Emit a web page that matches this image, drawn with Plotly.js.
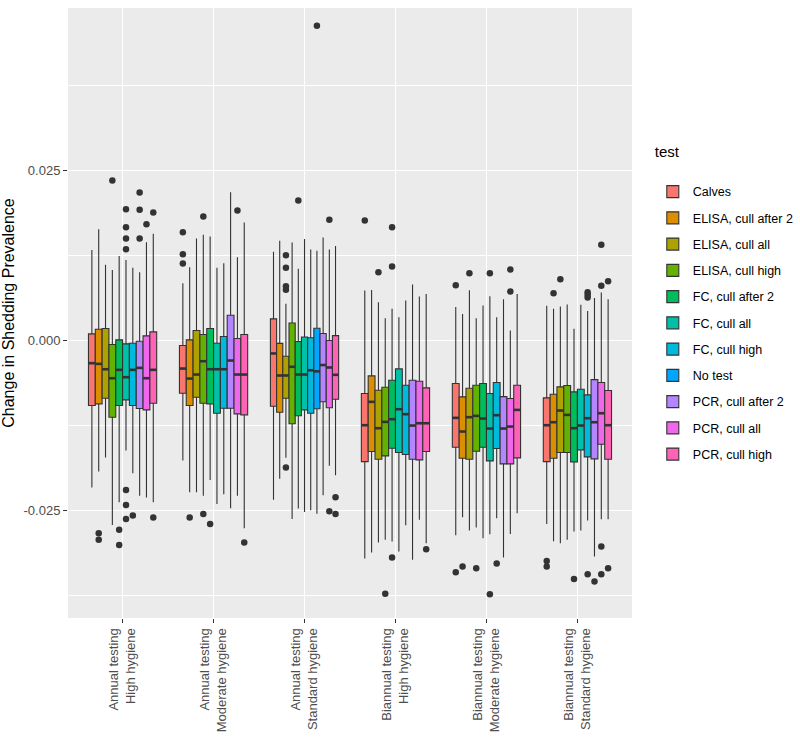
<!DOCTYPE html>
<html>
<head>
<meta charset="utf-8">
<script src="https://cdn.plot.ly/plotly-3.0.1.min.js"></script>
<style>
  body { margin: 0; background: #ffffff; }
  #chart { width: 800px; height: 741px; }
</style>
</head>
<body>
<div id="chart"></div>
<script>
/* Change in shedding prevalence by testing scheme, hygiene level and test */

let groups = ["Annual testing<br>High hygiene", "Annual testing<br>Moderate hygiene",
              "Annual testing<br>Standard hygiene", "Biannual testing<br>High hygiene",
              "Biannual testing<br>Moderate hygiene", "Biannual testing<br>Standard hygiene"];

let tests = ["Calves", "ELISA, cull after 2", "ELISA, cull all", "ELISA, cull high",
             "FC, cull after 2", "FC, cull all", "FC, cull high", "No test",
             "PCR, cull after 2", "PCR, cull all", "PCR, cull high"];

let testColors = ["#F8766D", "#DB8E00", "#AEA200", "#64B200", "#00BD5C", "#00C1A7",
                  "#00BADE", "#00A6FF", "#B385FF", "#EF67EB", "#FF63B6"];

// one row per test, one column per group (null = test not run in that group)
let upperWhisker = [
  [0.01333, 0.00843, 0.01307, 0.00735, 0.00495, 0.0051],
  [0.01637, 0.01078, 0.01466, 0.00745, 0.00392, 0.00466],
  [0.01113, 0.015, 0.0054, 0.00564, 0.0074, 0.005],
  [0.01039, 0.01554, 0.0144, 0.00328, 0.00328, 0.00529],
  [0.01245, 0.01529, 0.01055, 0.00466, 0.00515, 0.00172],
  [0.01186, 0.01069, 0.01492, 0.00343, 0.00652, 0.00525],
  [0.01069, 0.01137, 0.01337, 0.00588, 0.00343, 0.00436],
  [null, null, 0.01322, null, null, null],
  [0.01005, 0.02181, 0.01517, 0.00824, 0.00608, 0.00627],
  [0.01446, 0.01225, 0.01337, 0.00647, 0.00147, 0.00706],
  [0.01569, 0.01735, 0.01389, 0.00686, 0.00686, 0.00608]
];
let q3 = [
  [0.00098, -0.00074, 0.00319, -0.00779, -0.00632, -0.00843],
  [0.00167, 0.0001, -0.00041, -0.0052, -0.00828, -0.00789],
  [0.00176, 0.00147, -0.00231, -0.0073, -0.00701, -0.00681],
  [-0.00059, 0.00088, 0.00257, -0.00686, -0.00657, -0.00662],
  [0.0001, 0.00176, -0.00015, -0.00583, -0.00632, -0.00755],
  [-0.00049, -0.00039, 0.00051, -0.00417, -0.00779, -0.00716],
  [-0.00039, 0.00059, 0.00041, -0.00657, -0.00618, -0.00799],
  [null, null, 0.0018, null, null, null],
  [-0.0001, 0.00373, 0.00103, -0.00583, -0.00824, -0.00574],
  [0.00069, 0.00029, 0.0, -0.00598, -0.00853, -0.00618],
  [0.00127, 0.00088, 0.00072, -0.00696, -0.00657, -0.00735]
];
let median = [
  [-0.00333, -0.00412, -0.0019, -0.01245, -0.01137, -0.01245],
  [-0.00343, -0.00559, -0.00514, -0.00902, -0.01338, -0.01201],
  [-0.00422, -0.005, -0.00514, -0.01289, -0.01127, -0.01029],
  [-0.00554, -0.00304, -0.00386, -0.01196, -0.01108, -0.01093],
  [-0.00431, -0.00422, -0.00499, -0.01157, -0.01147, -0.01289],
  [-0.00539, -0.00422, -0.00499, -0.0101, -0.01294, -0.0125],
  [-0.00431, -0.00422, -0.00437, -0.01083, -0.01098, -0.01142],
  [null, null, -0.00453, null, null, null],
  [-0.00402, -0.00294, -0.0036, -0.0125, -0.01294, -0.01201],
  [-0.00554, -0.005, -0.00396, -0.01216, -0.01265, -0.01069],
  [-0.00431, -0.005, -0.00504, -0.01216, -0.0102, -0.01245]
];
let q1 = [
  [-0.00956, -0.00775, -0.00967, -0.0178, -0.01569, -0.0178],
  [-0.00931, -0.00956, -0.01055, -0.01632, -0.0173, -0.0173],
  [-0.00848, -0.00833, -0.00849, -0.01745, -0.01745, -0.01647],
  [-0.01127, -0.00922, -0.01224, -0.01696, -0.01627, -0.01647],
  [-0.00956, -0.00931, -0.01106, -0.01583, -0.01569, -0.01784],
  [-0.00873, -0.01069, -0.01019, -0.01647, -0.0177, -0.01608],
  [-0.00956, -0.00995, -0.0107, -0.01676, -0.01588, -0.01711],
  [null, null, -0.01003, null, null, null],
  [-0.01, -0.00995, -0.009, -0.01745, -0.01814, -0.0174],
  [-0.0102, -0.01078, -0.00988, -0.01755, -0.01814, -0.01525],
  [-0.00922, -0.01093, -0.00864, -0.01632, -0.01725, -0.01745]
];
let lowerWhisker = [
  [-0.0216, -0.01765, -0.0234, -0.03206, -0.02863, -0.02696],
  [-0.01927, -0.0223, -0.02032, -0.03118, -0.02598, -0.02951],
  [-0.01721, -0.0223, -0.01723, -0.02971, -0.02794, -0.0298],
  [-0.02711, -0.02284, -0.02623, -0.02931, -0.0275, -0.02931],
  [-0.02378, -0.02049, -0.02469, -0.02956, -0.02907, -0.02809],
  [-0.01618, -0.02402, -0.02521, -0.03103, -0.02848, -0.02794],
  [-0.01951, -0.0226, -0.02495, -0.02716, -0.02613, -0.02647],
  [null, null, -0.02546, null, null, null],
  [-0.02284, -0.02466, -0.02274, -0.03225, -0.03191, -0.03176],
  [-0.02309, -0.02284, -0.01842, -0.02637, -0.02843, -0.02627],
  [-0.02378, -0.0276, -0.0198, -0.0298, -0.02539, -0.02627]
];

// outliers: test index, group index, value
let outTest = [1, 1, 3, 4, 4, 5, 5, 5, 5, 5, 5, 5, 6, 8, 8, 8, 9, 10, 10,
               0, 0, 0, 1, 3, 3, 4, 9, 10,
               2, 2, 2, 2, 2, 4, 7, 9, 9, 10, 10,
               0, 2, 3, 4, 4, 4, 10,
               0, 0, 1, 2, 3, 5, 5, 6, 9, 9,
               0, 0, 1, 2, 4, 6, 6, 6, 6, 8, 9, 9, 9, 9, 10, 10];
let outGroup = [0, 0, 0, 0, 0, 0, 0, 0, 0, 0, 0, 0, 0, 0, 0, 0, 0, 0, 0,
                1, 1, 1, 1, 1, 1, 1, 1, 1,
                2, 2, 2, 2, 2, 2, 2, 2, 2, 2, 2,
                3, 3, 3, 3, 3, 3, 3,
                4, 4, 4, 4, 4, 4, 4, 4, 4, 4,
                5, 5, 5, 5, 5, 5, 5, 5, 5, 5, 5, 5, 5, 5, 5, 5];
let outValue = [-0.02833, -0.02931, 0.02353, -0.02784, -0.03005, 0.01931, 0.01667, 0.015,
                0.01343, -0.02196, -0.02417, -0.02623, -0.02574, 0.02176, 0.01922, 0.015,
                0.01711, 0.01882, -0.02603,
                0.01593, 0.0127, 0.01132, -0.02603, 0.01824, -0.02549, -0.02696, 0.01912,
                -0.02971,
                0.01255, 0.0107, 0.00797, 0.00746, -0.01867, 0.02058, 0.0463, 0.01775,
                -0.0251, -0.02304, -0.02551,
                0.01765, 0.01005, -0.03725, 0.01667, 0.01088, -0.03191, -0.03069,
                0.00814, -0.03407, -0.03324, 0.0099, -0.03348, 0.0099, -0.0373, -0.0328,
                0.01044, 0.00721,
                -0.0324, -0.03324, 0.00696, 0.00902, -0.03505, 0.00711, 0.00672, 0.00632,
                -0.03436, -0.03544, 0.01407, 0.00804, -0.03029, -0.03436, 0.00873, -0.03348];

let boxLine = "#333333";

// dodge the boxes present in each group over 0.75 of the slot, like ggplot does
function dodgePositions() {
  let pos = tests.map(() => groups.map(() => null));
  let width = groups.map(() => 0);
  groups.forEach((g, gi) => {
    let present = tests.map((t, ti) => ti).filter(ti => median[ti][gi] !== null);
    let w = 0.75 / present.length;
    width[gi] = w;
    present.forEach((ti, j) => {
      pos[ti][gi] = gi + 1 + (j - (present.length - 1) / 2) * w;
    });
  });
  return {pos: pos, width: width};
}

function buildTraces() {
  let dodge = dodgePositions();
  let traces = [];
  let medX = [], medY = [];
  tests.forEach((test, ti) => {
    let first = true;
    groups.forEach((g, gi) => {
      if (median[ti][gi] === null) return;
      let x = dodge.pos[ti][gi];
      let w = dodge.width[gi];
      traces.push({
        type: "box",
        name: test,
        legendgroup: test,
        showlegend: first,
        x: [x],
        q1: [q1[ti][gi]],
        median: [median[ti][gi]],
        q3: [q3[ti][gi]],
        lowerfence: [lowerWhisker[ti][gi]],
        upperfence: [upperWhisker[ti][gi]],
        width: w,
        whiskerwidth: 0,
        boxpoints: false,
        fillcolor: testColors[ti],
        line: {color: boxLine, width: 1.1},
        hoverinfo: "y"
      });
      first = false;
      medX.push(x - w / 2, x + w / 2, null);
      medY.push(median[ti][gi], median[ti][gi], null);
    });
  });

  // thicker median bar, as ggplot draws it
  traces.push({
    type: "scatter",
    mode: "lines",
    x: medX,
    y: medY,
    line: {color: boxLine, width: 2.6},
    showlegend: false,
    hoverinfo: "skip"
  });

  traces.push({
    type: "scatter",
    mode: "markers",
    x: outValue.map((v, i) => dodge.pos[outTest[i]][outGroup[i]]),
    y: outValue,
    marker: {color: boxLine, size: 6.5},
    showlegend: false,
    hoverinfo: "y"
  });
  return traces;
}

let layout = {
  width: 800,
  height: 741,
  margin: {l: 68, r: 168, t: 8, b: 123},
  paper_bgcolor: "#ffffff",
  plot_bgcolor: "#EBEBEB",
  font: {family: "Liberation Sans, Arial, sans-serif", size: 12, color: "#000000"},
  boxmode: "overlay",
  xaxis: {
    range: [0.4, 6.6],
    tickmode: "array",
    tickvals: groups.map((g, i) => i + 1),
    ticktext: groups,
    tickangle: -90,
    ticks: "outside",
    ticklen: 4,
    tickcolor: "#333333",
    tickfont: {size: 13, color: "#4D4D4D"},
    showgrid: true,
    gridcolor: "#ffffff",
    gridwidth: 1.1,
    zeroline: false,
    showline: false
  },
  yaxis: {
    range: [-0.0408, 0.0489],
    tickmode: "array",
    tickvals: [-0.025, 0, 0.025],
    ticktext: ["-0.025", "0.000", "0.025"],
    ticks: "outside",
    ticklen: 4,
    tickcolor: "#333333",
    tickfont: {size: 13, color: "#4D4D4D"},
    showgrid: true,
    gridcolor: "#ffffff",
    gridwidth: 1.1,
    minor: {
      tickmode: "array",
      tickvals: [-0.0375, -0.0125, 0.0125, 0.0375],
      showgrid: true,
      gridcolor: "#ffffff",
      gridwidth: 0.5,
      ticks: ""
    },
    zeroline: false,
    showline: false,
    title: {text: "Change in Shedding Prevalence", font: {size: 16, color: "#000000"}, standoff: 5}
  },
  legend: {
    title: {text: "test<br>&nbsp;", font: {size: 15}},
    xref: "container",
    yref: "container",
    x: 0.816,
    xanchor: "left",
    y: 0.8138,
    yanchor: "top",
    tracegroupgap: 7,
    font: {size: 12.5, color: "#000000"},
    bgcolor: "rgba(0,0,0,0)"
  },
  showlegend: true
};

Plotly.newPlot("chart", buildTraces(), layout, {displayModeBar: false});
</script>
</body>
</html>
